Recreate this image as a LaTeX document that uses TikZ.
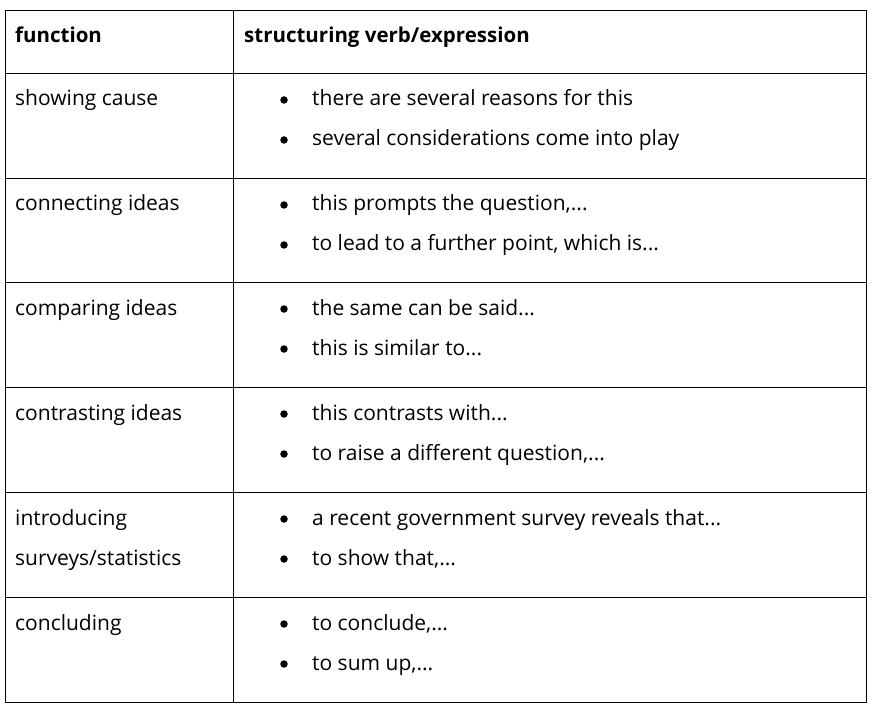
\documentclass[tikz,border=0pt]{standalone}
\usepackage{fontspec}
\setmainfont{Open Sans}
\def\el{...}
\begin{document}
\begin{tikzpicture}[x=1pt,y=-1pt,
  txt/.style={anchor=base west,inner sep=0pt,font=\fontsize{21}{24}\selectfont},
  hd/.style={txt,font=\fontsize{20.5}{24}\selectfont\bfseries},
  bul/.style={circle,fill=black,inner sep=0pt,minimum size=7.5pt}]
\useasboundingbox (0,0) rectangle (880,711);
\draw[line width=0.9pt] (5,10) rectangle (866,702);
\draw[line width=0.9pt] (233,10) -- (233,702);
\foreach \y in {73,178,282,387,492,597} \draw[line width=0.9pt] (5,\y) -- (866,\y);
\node[hd] (h1) at (15,43) {function};
\node[hd] (h2) at (244,43) {structuring verb/expression};
\foreach \n/\y/\f/\a/\b in {
 1/106/showing cause/there are several reasons for this/several considerations come into play,
 2/211/connecting ideas/{this prompts the question,\el}/{to lead to a further point, which is\el},
 3/315/comparing ideas/the same can be said\el/this is similar to\el,
 4/420/contrasting ideas/this contrasts with\el/{to raise a different question,\el},
 5/525/introducing/a recent government survey reveals that\el/{to show that,\el},
 6/630/concluding/{to conclude,\el}/{to sum up,\el}}{
  \node[txt] (f\n) at (15,\y) {\f};
  \node[bul] (ba\n) at (284,\y-6) {};
  \node[txt] (a\n) at (312,\y) {\a};
  \node[bul] (bb\n) at (284,\y+34) {};
  \node[txt] (b\n) at (312,\y+40) {\b};
}
\node[txt] (f5b) at (15,565) {surveys/statistics};
\end{tikzpicture}
\end{document}
